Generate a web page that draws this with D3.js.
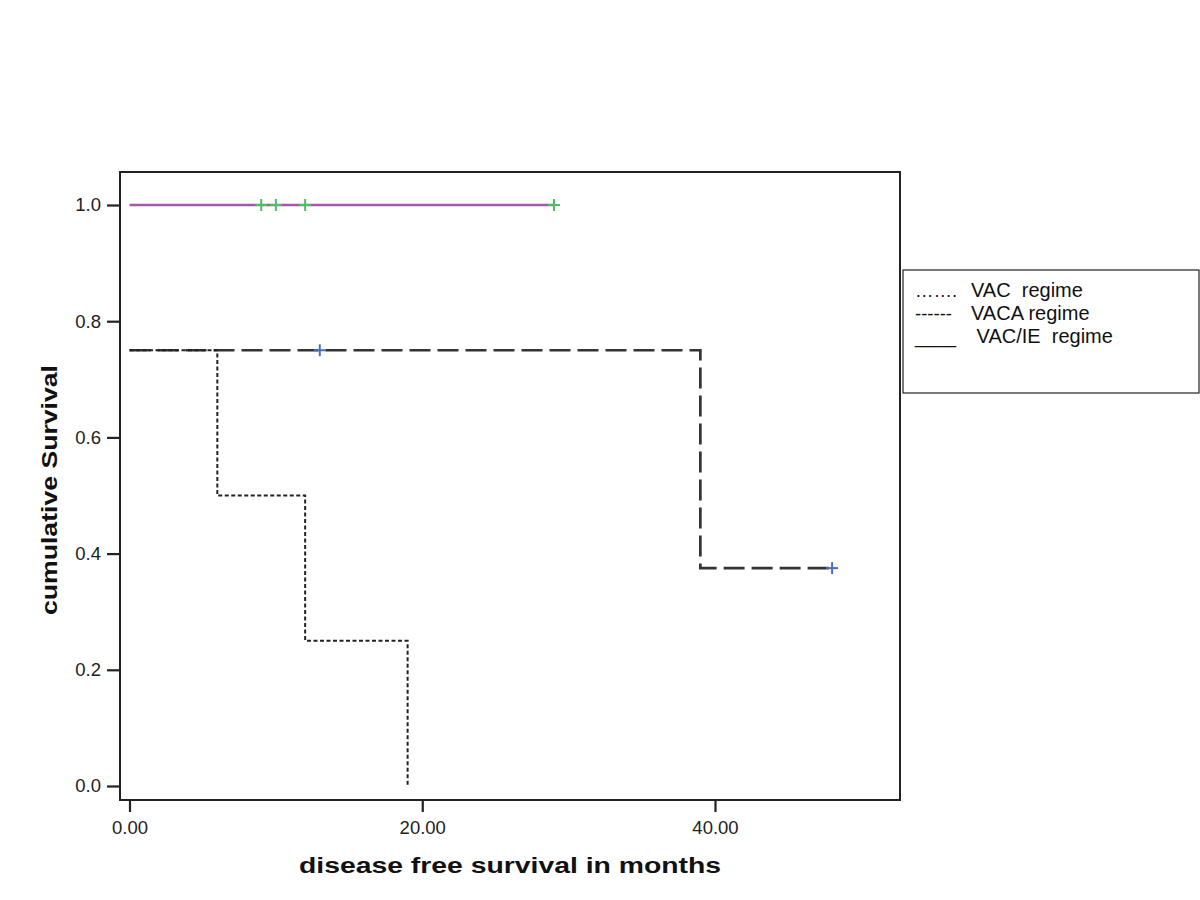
<!DOCTYPE html>
<html><head><meta charset="utf-8">
<script src="https://cdn.jsdelivr.net/npm/d3@7"></script>
<style>body{margin:0;background:#fff}svg{display:block}</style>
</head><body>
<script>
// Kaplan-Meier step data (time in months, cumulative survival)
const vacTimes = [0, 6, 6, 12, 12, 19, 19];
const vacSurv  = [0.75, 0.75, 0.5, 0.5, 0.25, 0.25, 0.0];
const vacaTimes = [0, 39, 39, 48];
const vacaSurv  = [0.75, 0.75, 0.375, 0.375];
const vacaCensorTimes = [13, 48];
const vacaCensorSurv  = [0.75, 0.375];
const vacieTimes = [0, 29];
const vacieSurv  = [1.0, 1.0];
const vacieCensorTimes = [9, 10, 12, 29];
const vacieCensorSurv  = [1.0, 1.0, 1.0, 1.0];
const xTicks = [0, 20, 40];
const yTicks = [0, 0.2, 0.4, 0.6, 0.8, 1.0];
const legendMarks = ["\u2026\u2026.", "------", "____"];
const legendNames = ["VAC  regime", "VACA regime", " VAC/IE  regime"];

const W = 1200, H = 900;
const FONT = "Liberation Sans, Arial, sans-serif";
const svg = d3.select("body").append("svg").attr("width", W).attr("height", H);

const x = d3.scaleLinear().domain([0, 40]).range([129.5, 715]);
const y = d3.scaleLinear().domain([0, 1]).range([786, 205]);

// frame
const fL = 120, fR = 900, fT = 172, fB = 800;
svg.append("rect").attr("x", fL).attr("y", fT).attr("width", fR - fL).attr("height", fB - fT)
  .attr("fill", "none").attr("stroke", "#222").attr("stroke-width", 2);

// axes
const yAxis = d3.axisLeft(y).tickValues(yTicks).tickFormat(d3.format(".1f")).tickSize(13).tickPadding(6);
const gy = svg.append("g").attr("transform", `translate(${fL},0)`).call(yAxis);
const xAxis = d3.axisBottom(x).tickValues(xTicks).tickFormat(d3.format(".2f")).tickSize(12).tickPadding(9);
const gx = svg.append("g").attr("transform", `translate(0,${fB})`).call(xAxis);
[gx, gy].forEach(g => {
  g.attr("font-size", null).attr("font-family", null);
  g.select(".domain").remove();
  g.selectAll(".tick line").attr("stroke", "#222").attr("stroke-width", 2.2);
  g.selectAll(".tick text").style("font-family", FONT)
    .style("font-size", "18.5px").attr("fill", "#222");
});

const line = d3.line().x(d => x(d[0])).y(d => y(d[1]));
const zip = (a, b) => a.map((v, i) => [v, b[i]]);

// VAC/IE solid purple
svg.append("path").datum(zip(vacieTimes, vacieSurv)).attr("d", line)
  .attr("fill", "none").attr("stroke", "#a05aa8").attr("stroke-width", 2.5);
// VACA dashed
svg.append("path").datum(zip(vacaTimes, vacaSurv)).attr("d", line)
  .attr("fill", "none").attr("stroke", "#333").attr("stroke-width", 2.7)
  .attr("stroke-dasharray", "21,7");
// VAC dotted
svg.append("path").datum(zip(vacTimes, vacSurv)).attr("d", line)
  .attr("fill", "none").attr("stroke", "#222").attr("stroke-width", 2)
  .attr("stroke-dasharray", "4,2.5");

// censor marks
const cross = (g, pts, color) => {
  pts.forEach(p => {
    const cx = x(p[0]), cy = y(p[1]);
    g.append("line").attr("x1", cx - 6).attr("x2", cx + 6).attr("y1", cy).attr("y2", cy)
      .attr("stroke", color).attr("stroke-width", 2);
    g.append("line").attr("x1", cx).attr("x2", cx).attr("y1", cy - 6).attr("y2", cy + 6)
      .attr("stroke", color).attr("stroke-width", 2);
  });
};
cross(svg.append("g"), zip(vacieCensorTimes, vacieCensorSurv), "#4cc060");
cross(svg.append("g"), zip(vacaCensorTimes, vacaCensorSurv), "#4a6cc8");

// axis titles
svg.append("text").attr("x", 510).attr("y", 873).attr("text-anchor", "middle")
  .attr("font-family", FONT).attr("font-weight", "bold")
  .attr("font-size", 22).attr("textLength", 422).attr("lengthAdjust", "spacingAndGlyphs")
  .attr("fill", "#111").text("disease free survival in months");
svg.append("text").attr("transform", "translate(57,490) rotate(-90)").attr("text-anchor", "middle")
  .attr("font-family", FONT).attr("font-weight", "bold")
  .attr("font-size", 22).attr("textLength", 250).attr("lengthAdjust", "spacingAndGlyphs")
  .attr("fill", "#111").text("cumulative Survival");

// legend
const lg = svg.append("g");
lg.append("rect").attr("x", 903).attr("y", 270).attr("width", 296).attr("height", 123)
  .attr("fill", "#fff").attr("stroke", "#222").attr("stroke-width", 1.2);
lg.selectAll("text.mark").data(legendMarks).join("text").attr("class", "mark")
  .attr("x", 915).attr("y", (d, i) => 297 + i * 23)
  .attr("font-family", FONT).attr("font-size", 18.5).attr("fill", "#111").text(d => d);
lg.selectAll("text.name").data(legendNames).join("text").attr("class", "name")
  .attr("x", 971).attr("y", (d, i) => 297 + i * 23)
  .attr("font-family", FONT).attr("font-size", 20).attr("fill", "#111")
  .style("white-space", "pre").text(d => d);
</script>
</body></html>
